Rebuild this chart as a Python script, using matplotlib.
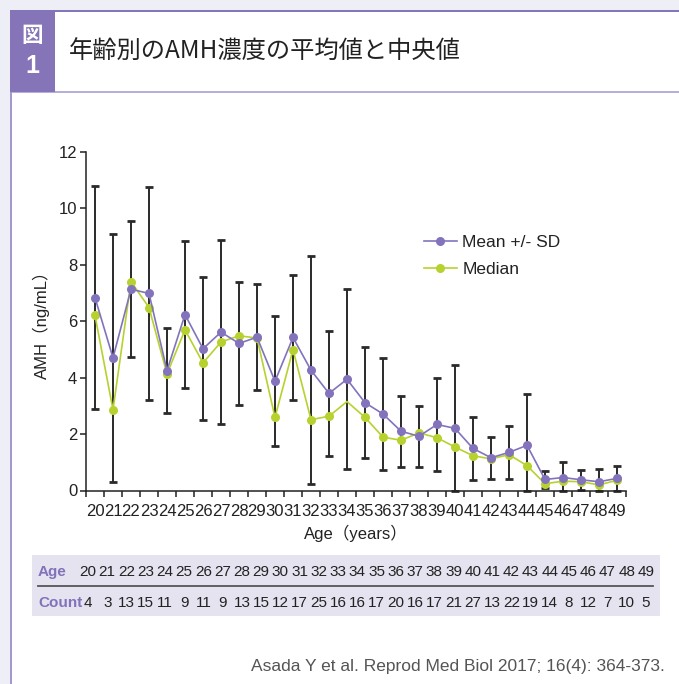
import numpy as np
import matplotlib
matplotlib.use("Agg")
import matplotlib.pyplot as plt
from matplotlib.patches import Rectangle
from matplotlib.lines import Line2D

plt.rcParams['font.family'] = ['Liberation Sans', 'Noto Sans CJK JP']

# AMH (ng/mL) by age
ages = list(range(20, 50))
mean_amh = [6.83, 4.70, 7.13, 6.98, 4.25, 6.23, 5.02, 5.61, 5.21, 5.43,
            3.87, 5.42, 4.26, 3.44, 3.94, 3.11, 2.71, 2.10, 1.92, 2.34,
            2.20, 1.49, 1.16, 1.35, 1.60, 0.39, 0.46, 0.38, 0.31, 0.43]
sd_amh = [3.95, 4.39, 2.40, 3.78, 1.52, 2.60, 2.54, 3.25, 2.18, 1.87,
          2.30, 2.20, 4.03, 2.22, 3.19, 1.97, 1.99, 1.25, 1.08, 1.64,
          2.23, 1.11, 0.74, 0.95, 1.83, 0.31, 0.54, 0.36, 0.45, 0.43]
median_amh = [6.20, 2.86, 7.40, 6.48, 4.13, 5.69, 4.52, 5.26, 5.48, 5.40,
              2.59, 4.99, 2.51, 2.63, 3.15, 2.59, 1.89, 1.78, 2.04, 1.87,
              1.54, 1.23, 1.12, 1.27, 0.88, 0.24, 0.33, 0.31, 0.20, 0.36]
median_unmarked = [34]
counts = [4, 3, 13, 15, 11, 9, 11, 9, 13, 15, 12, 17, 25, 16, 16,
          17, 20, 16, 17, 21, 27, 13, 22, 19, 14, 8, 12, 7, 10, 5]

PURPLE = '#8373bd'
GREEN = '#b7d22e'
DARK = '#222222'

W, H = 679, 684
fig = plt.figure(figsize=(W / 100, H / 100), dpi=100)
fig.patch.set_facecolor('#eeeef6')


def px_rect(x0, y0, x1, y1, color, z=0):
    # rectangle given in pixel coords, origin top-left
    fig.patches.append(Rectangle((x0 / W, 1 - y1 / H), (x1 - x0) / W, (y1 - y0) / H,
                                 transform=fig.transFigure, facecolor=color,
                                 edgecolor='none', zorder=z))


# panel + header frame
px_rect(10, 10, W, H, 'white')
px_rect(10, 9.5, W, 11.5, '#8576bc', 1)
px_rect(10, 90.5, W, 92.5, '#b6aedb', 1)
px_rect(9.5, 92, 11.5, H, '#a598cf', 1)
px_rect(10, 10, 55, 92, '#8574b8', 2)
fig.text(32.5 / W, 1 - 36 / H, '図', color='white', fontsize=15.5, fontweight='bold',
         family=['Noto Sans CJK JP'], ha='center', va='center', zorder=3)
fig.text(32.5 / W, 1 - 66 / H, '1', color='white', fontsize=18, fontweight='bold',
         ha='center', va='center', zorder=3)
fig.text(69 / W, 1 - 51 / H, '年齢別のAMH濃度の平均値と中央値', color=DARK, fontsize=17.5,
         family=['Noto Sans CJK JP'], ha='left', va='center', zorder=3)

# main chart
ax = fig.add_axes([86 / W, 1 - 490.5 / H, 540 / W, (490.5 - 151.7) / H])
ax.set_zorder(10)
ax.set_xlim(19.5, 49.5)
ax.set_ylim(0, 12)
ax.patch.set_alpha(0)

lower = np.minimum(sd_amh, mean_amh)
ax.errorbar(ages, mean_amh, yerr=[lower, sd_amh], fmt='none', ecolor='#2a2a2a',
            elinewidth=1.4, capsize=3.2, capthick=2, zorder=2, clip_on=False)
marked = [i for i, a in enumerate(ages) if a not in median_unmarked]
med_line, = ax.plot(ages, median_amh, color=GREEN, lw=1.2, marker='o', ms=6.5,
                    mec='none', markevery=marked, zorder=3, clip_on=False)
mean_line, = ax.plot(ages, mean_amh, color=PURPLE, lw=1.2, marker='o', ms=6.5,
                     mec='none', zorder=4, clip_on=False)

for s in ['top', 'right']:
    ax.spines[s].set_visible(False)
for s in ['left', 'bottom']:
    ax.spines[s].set_color(DARK)
    ax.spines[s].set_linewidth(1.1)

ax.set_yticks(range(0, 13, 2))
ax.tick_params(axis='y', length=4.3, width=1.1, color=DARK, labelsize=12,
               labelcolor=DARK, pad=2)
ax.set_xticks(np.arange(19.5, 50, 1))
ax.set_xticklabels([])
ax.tick_params(axis='x', which='major', length=4.3, width=1.1, color=DARK)
ax.set_xticks(ages, minor=True)
ax.set_xticklabels([str(a) for a in ages], minor=True)
ax.tick_params(axis='x', which='minor', length=0, labelsize=12, labelcolor=DARK, pad=10)

ax.set_xlabel('Age（years）', fontsize=12, color=DARK, labelpad=4)
ax.set_ylabel('AMH（ng/mL）', fontsize=12, color=DARK, labelpad=6)

ax.legend([mean_line, med_line], ['Mean +/- SD', 'Median'], loc='upper left',
          bbox_to_anchor=(424 / W, 1 - 235 / H), bbox_transform=fig.transFigure,
          frameon=False, fontsize=12.5, handlelength=1.9, handletextpad=0.3,
          labelspacing=0.65, borderpad=0, borderaxespad=0, labelcolor=DARK)

# count table
px_rect(32, 555, 660, 616, '#e5e3f0', 1)
fig.lines.append(Line2D([38 / W, 653 / W], [1 - 586 / H, 1 - 586 / H],
                        transform=fig.transFigure, color='#555555', lw=1.3, zorder=3))
fig.text(38 / W, 1 - 572 / H, 'Age', color='#8272ba', fontsize=11, fontweight='bold',
         ha='left', va='center', zorder=4)
fig.text(38 / W, 1 - 603 / H, 'Count', color='#8272ba', fontsize=11, fontweight='bold',
         ha='left', va='center', zorder=4)
col_x = np.linspace(88, 646, len(ages))
for cx, a, n in zip(col_x, ages, counts):
    fig.text(cx / W, 1 - 572 / H, str(a), color=DARK, fontsize=11, ha='center',
             va='center', zorder=4)
    fig.text(cx / W, 1 - 603 / H, str(n), color=DARK, fontsize=11, ha='center',
             va='center', zorder=4)

fig.text(665 / W, 1 - 667 / H, 'Asada Y et al. Reprod Med Biol 2017; 16(4): 364-373.',
         color='#555555', fontsize=12.5, ha='right', va='center')

fig.savefig('out.png', dpi=100)
